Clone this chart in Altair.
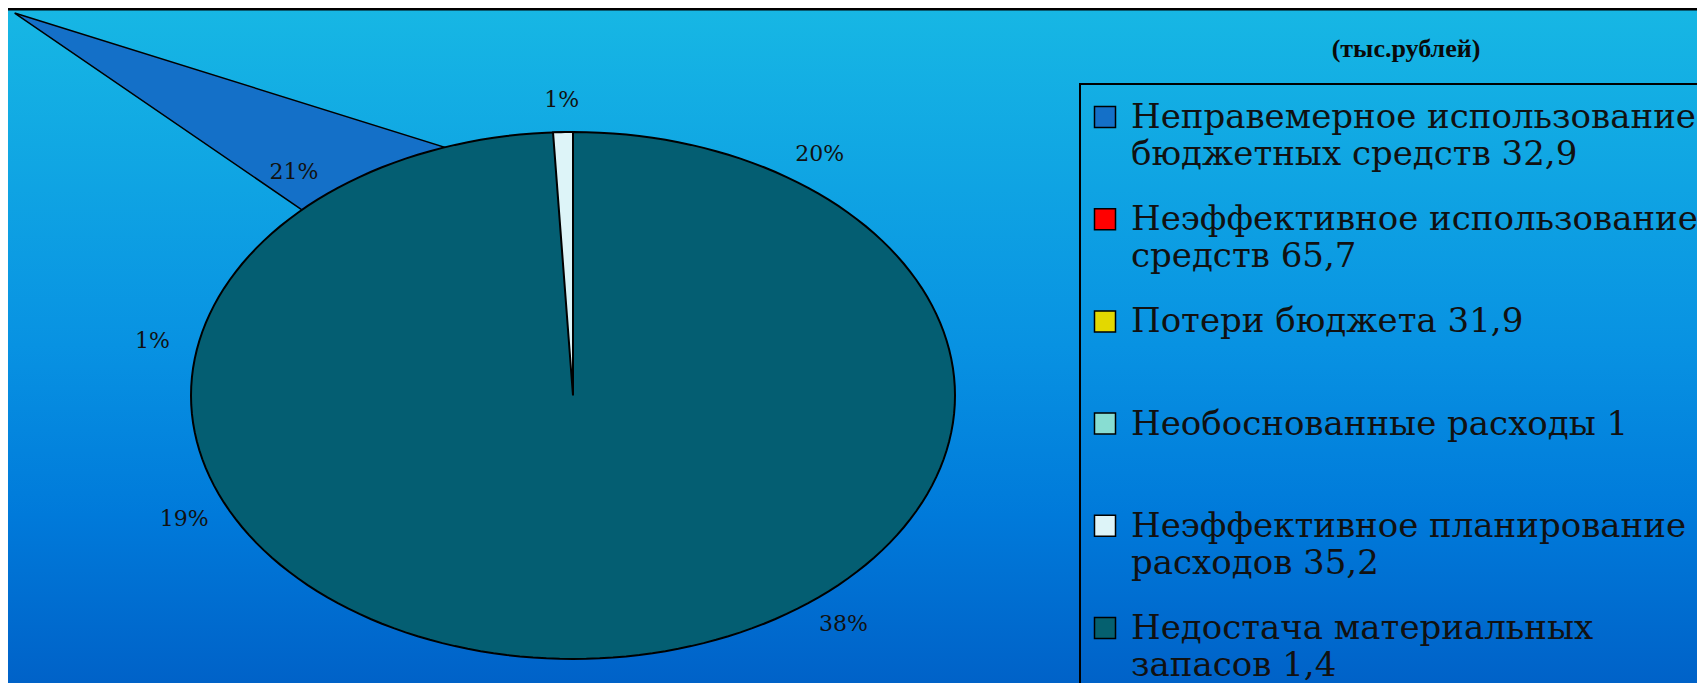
import altair as alt
import numpy as np
import pandas as pd

# ---------------- data ----------------
categories = [
    "Неправемерное использование бюджетных средств",
    "Неэффективное использование средств",
    "Потери бюджета",
    "Необоснованные расходы",
    "Неэффективное планирование расходов",
    "Недостача материальных запасов",
]
values = [32.9, 65.7, 31.9, 1.0, 35.2, 1.4]
pct_labels = ["20%", "38%", "19%", "1%", "21%", "1%"]
legend_labels = [
    "Неправемерное использование\nбюджетных средств 32,9",
    "Неэффективное использование\nсредств 65,7",
    "Потери бюджета 31,9",
    "Необоснованные расходы 1",
    "Неэффективное планирование\nрасходов 35,2",
    "Недостача материальных\nзапасов 1,4",
]
colors = ["#1470C8", "#FF0000", "#E3D800", "#88DDD2", "#DDF4F8", "#05606F"]
unit_title = "(тыс.рублей)"

# ---------------- layout / style ----------------
W, H = 1689, 675
CX, CY, RX, RY = 565, 387.5, 382, 263.5      # pie centre and radii in pixels
LABEL_R = 1.12                                # label radius (pie units)
SHARD_ANGLES = (314.8, 340.4)                 # exploded shard rim angles (deg)
SHARD_TIP_R = 2.06
FONT = "DejaVu Serif"

x_scale = alt.Scale(domain=[-CX / RX, (W - CX) / RX], nice=False, zero=False)
y_scale = alt.Scale(domain=[(CY - H) / RY, CY / RY], nice=False, zero=False)

# ---------------- pie geometry from the values ----------------
vals = np.array(values)
total = vals.sum()
end = np.cumsum(vals) / total * 360.0
start = end - vals / total * 360.0
mid = (start + end) / 2.0


def pt(angle_deg, r=1.0):
    a = np.radians(angle_deg)
    return r * np.sin(a), r * np.cos(a)


# percent labels
lab_u, lab_v = pt(mid, LABEL_R)
labels_df = pd.DataFrame({"u": lab_u, "v": lab_v, "t": pct_labels})

# full ellipse outline
deg = np.arange(0, 361, 2.0)
eu, ev = pt(deg)
ellipse_df = pd.DataFrame({"u": eu, "v": ev, "i": np.arange(len(deg))})

# thin last slice wedge
wa = np.linspace(start[-1], end[-1], 6)
wu, wv = pt(wa)
wedge_df = pd.DataFrame({
    "u": np.concatenate([[0.0], wu, [0.0]]),
    "v": np.concatenate([[0.0], wv, [0.0]]),
})
wedge_df["i"] = np.arange(len(wedge_df))

# exploded shard
tu, tv = pt(SHARD_ANGLES[0], SHARD_TIP_R)
p1u, p1v = pt(SHARD_ANGLES[1])
p2u, p2v = pt(SHARD_ANGLES[0])
shard_df = pd.DataFrame({
    "u": [tu, p1u, p2u, tu],
    "v": [tv, p1v, p2v, tv],
    "i": [0, 1, 2, 3],
})

legend_df = pd.DataFrame({
    "row": list(range(len(categories))),
    "cat": categories,
    "label": legend_labels,
})

X = alt.X("u:Q", scale=x_scale, axis=None)
Y = alt.Y("v:Q", scale=y_scale, axis=None)

bg = alt.Chart(pd.DataFrame({"a": [0]})).mark_rect(
    color=alt.Gradient(
        gradient="linear",
        stops=[
            alt.GradientStop(color="#17B7E4", offset=0),
            alt.GradientStop(color="#0892E2", offset=0.5),
            alt.GradientStop(color="#007ADA", offset=0.75),
            alt.GradientStop(color="#0062C8", offset=1),
        ],
        x1=0, x2=0, y1=0, y2=1,
    )
).encode(x=alt.value(0), x2=alt.value(W), y=alt.value(0), y2=alt.value(H))

top_rule = alt.Chart(pd.DataFrame({"a": [0]})).mark_rule(
    color="black", strokeWidth=3
).encode(x=alt.value(0), x2=alt.value(W), y=alt.value(1))

shard = alt.Chart(shard_df).mark_line(
    fill=colors[0], stroke="black", strokeWidth=1.5
).encode(x=X, y=Y, order=alt.Order("i:Q"))

ellipse = alt.Chart(ellipse_df).mark_line(
    fill="#045E72", stroke="black", strokeWidth=2
).encode(x=X, y=Y, order=alt.Order("i:Q"))

wedge = alt.Chart(wedge_df).mark_line(
    fill=colors[4], stroke="black", strokeWidth=2
).encode(x=X, y=Y, order=alt.Order("i:Q"))

pct = alt.Chart(labels_df).mark_text(
    font=FONT, fontSize=22, color="#111111", align="center", baseline="middle"
).encode(x=X, y=Y, text="t:N")

legend_box = alt.Chart(pd.DataFrame({"a": [0]})).mark_rect(
    fillOpacity=0, stroke="black", strokeWidth=2
).encode(x=alt.value(1072), x2=alt.value(W + 20), y=alt.value(76), y2=alt.value(H + 20))

title = alt.Chart(pd.DataFrame({"t": [unit_title]})).mark_text(
    font="Liberation Serif", fontSize=26, fontWeight="bold", color="#0A0A0A",
    align="center", baseline="middle"
).encode(x=alt.value(1398), y=alt.value(41), text="t:N")

row_y = alt.Y("row:O", scale=alt.Scale(type="point", domain=list(range(6)),
                                        range=[109, 620], padding=0), axis=None)

markers = alt.Chart(legend_df).mark_square(
    size=441, stroke="black", strokeWidth=1.5, opacity=1
).encode(
    x=alt.value(1097), y=row_y,
    color=alt.Color("cat:N", scale=alt.Scale(domain=categories, range=colors), legend=None),
)

legend_text = alt.Chart(legend_df).mark_text(
    font=FONT, fontSize=34, color="#111111", align="left", baseline="alphabetic",
    dy=11, lineBreak="\n", lineHeight=37
).encode(x=alt.value(1123), y=row_y, text="label:N")

chart = alt.layer(
    bg, top_rule, shard, ellipse, wedge, pct, legend_box, title, markers, legend_text
).resolve_scale(y="independent", x="shared").properties(
    width=W, height=H, padding=0, autosize=alt.AutoSizeParams(type="none"),
    background="#17B7E4",
).configure_view(stroke=None)

chart.save("out.html", embed_options={"renderer": "svg", "actions": False})
